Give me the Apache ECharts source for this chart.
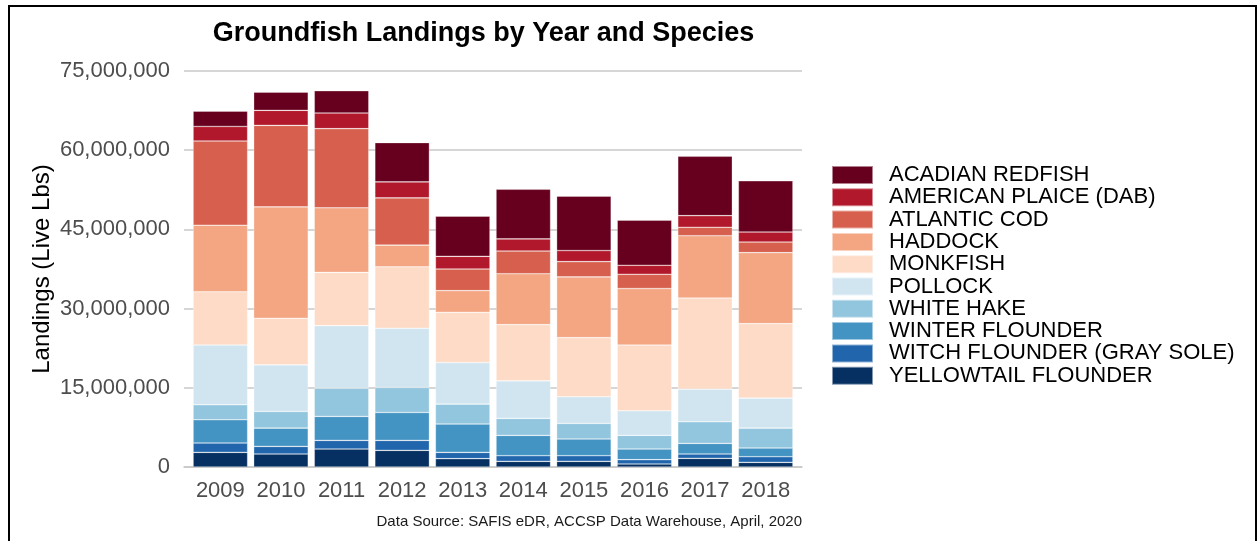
<!DOCTYPE html>
<html>
<head>
<meta charset="utf-8">
<script src="https://cdn.jsdelivr.net/npm/echarts@6/dist/echarts.min.js"></script>
<style>html,body{margin:0;padding:0;background:#fff}#c{width:1259px;height:541px}</style>
</head>
<body>
<div id="c"></div>
<script>
const years = ['2009','2010','2011','2012','2013','2014','2015','2016','2017','2018'];
const yTicks = [0, 15000000, 30000000, 45000000, 60000000, 75000000];
const yellowtail = [2770000, 2460000, 3400000, 3150000, 1580000, 1070000, 1070000, 570000, 1640000, 880000];
const witch      = [1770000, 1440000, 1640000, 1890000, 1190000, 1070000, 1070000, 820000, 820000, 1070000];
const winter     = [4410000, 3470000, 4540000, 5290000, 5360000, 3850000, 3160000, 2010000, 2010000, 1640000];
const whiteHake  = [2830000, 3150000, 5350000, 4730000, 3780000, 3210000, 2950000, 2590000, 4100000, 3780000];
const pollock    = [11320000, 8820000, 11850000, 11220000, 7880000, 7120000, 5050000, 4660000, 6170000, 5670000];
const monkfish   = [10100000, 8830000, 10080000, 11650000, 9510000, 10650000, 11200000, 12450000, 17260000, 14120000];
const haddock    = [12600000, 21100000, 12230000, 4100000, 4100000, 9630000, 11500000, 10700000, 11800000, 13440000];
const cod        = [15950000, 15430000, 14990000, 8950000, 4100000, 4300000, 2900000, 2700000, 1600000, 2000000];
const plaice     = [2750000, 2850000, 2960000, 3020000, 2400000, 2300000, 2100000, 1700000, 2200000, 1900000];
const redfish    = [2900000, 3450000, 4230000, 7440000, 7600000, 9400000, 10300000, 8550000, 11250000, 9700000];

const speciesBottomUp = [
  ['YELLOWTAIL FLOUNDER', yellowtail, '#053061'],
  ['WITCH FLOUNDER (GRAY SOLE)', witch, '#2166ac'],
  ['WINTER FLOUNDER', winter, '#4393c3'],
  ['WHITE HAKE', whiteHake, '#92c5de'],
  ['POLLOCK', pollock, '#d1e5f0'],
  ['MONKFISH', monkfish, '#fddbc7'],
  ['HADDOCK', haddock, '#f4a582'],
  ['ATLANTIC COD', cod, '#d6604d'],
  ['AMERICAN PLAICE (DAB)', plaice, '#b2182b'],
  ['ACADIAN REDFISH', redfish, '#67001f']
];

const FONT = 'Liberation Sans, Arial, sans-serif';
const chart = echarts.init(document.getElementById('c'), null, {renderer: 'canvas'});

const series = speciesBottomUp.map(([name, vals, color]) => ({
  name: name,
  type: 'bar',
  stack: 'total',
  xAxisIndex: 1,
  yAxisIndex: 1,
  barCategoryGap: '10%',
  itemStyle: {color: color, borderColor: 'rgba(255,255,255,0.5)', borderWidth: 0.6},
  emphasis: {disabled: true},
  data: vals
}));

const yMin = yTicks[0], yMax = yTicks[yTicks.length - 1];

chart.setOption({
  animation: false,
  backgroundColor: '#ffffff',
  textStyle: {fontFamily: FONT},
  title: {
    text: 'Groundfish Landings by Year and Species',
    left: 478.5, top: 15, textAlign: 'center',
    textStyle: {fontFamily: FONT, fontSize: 27, fontWeight: 'bold', color: '#000'}
  },
  legend: {
    orient: 'vertical',
    left: 826, top: 159,
    itemWidth: 41, itemHeight: 18, itemGap: 0.3,
    icon: 'rect',
    data: speciesBottomUp.map(s => s[0]).reverse(),
    textStyle: {fontFamily: FONT, fontSize: 22, lineHeight: 22, color: '#000', padding: [0, 0, 0, 11]},
    selectedMode: false
  },
  grid: [
    {left: 184, right: 457, top: 71, bottom: 74, containLabel: false},
    {left: 190.06, right: 463.06, top: 71, bottom: 74, containLabel: false}
  ],
  xAxis: [
    {
      gridIndex: 0, type: 'value', min: 0, max: 1,
      axisLine: {show: true, lineStyle: {color: '#c8c8c8', width: 1.5}},
      axisTick: {show: false}, splitLine: {show: false}, axisLabel: {show: false}
    },
    {
      gridIndex: 1, type: 'category', data: years,
      axisLine: {show: false},
      axisTick: {show: false},
      axisLabel: {interval: 0, hideOverlap: false, fontSize: 22, color: '#4d4d4d', margin: 13, fontFamily: FONT}
    }
  ],
  yAxis: [
    {
      gridIndex: 0, type: 'value',
      min: yMin, max: yMax, interval: 15000000,
      name: 'Landings (Live Lbs)',
      nameLocation: 'middle', nameRotate: 90, nameGap: 130,
      nameTextStyle: {fontFamily: FONT, fontSize: 24, color: '#000'},
      axisLine: {show: false},
      axisTick: {show: false},
      splitLine: {show: true, lineStyle: {color: '#c8c8c8', width: 1.5}},
      axisLabel: {
        formatter: v => v.toLocaleString('en-US'),
        fontSize: 22, color: '#4d4d4d', margin: 14, fontFamily: FONT
      }
    },
    {
      gridIndex: 1, type: 'value',
      min: yMin, max: yMax, interval: 15000000,
      axisLine: {show: false}, axisTick: {show: false},
      splitLine: {show: false}, axisLabel: {show: false}
    }
  ],
  graphic: [
    {
      type: 'rect',
      shape: {x: 9, y: 6, width: 1247, height: 545},
      style: {fill: 'none', stroke: '#000', lineWidth: 2},
      silent: true
    },
    {
      type: 'text',
      x: 802, y: 522,
      style: {
        text: 'Data Source: SAFIS eDR, ACCSP Data Warehouse, April, 2020',
        fontFamily: FONT, fontSize: 15, fill: '#1a1a1a',
        textAlign: 'right', textVerticalAlign: 'middle'
      },
      silent: true
    }
  ],
  series: series
});
</script>
</body>
</html>
